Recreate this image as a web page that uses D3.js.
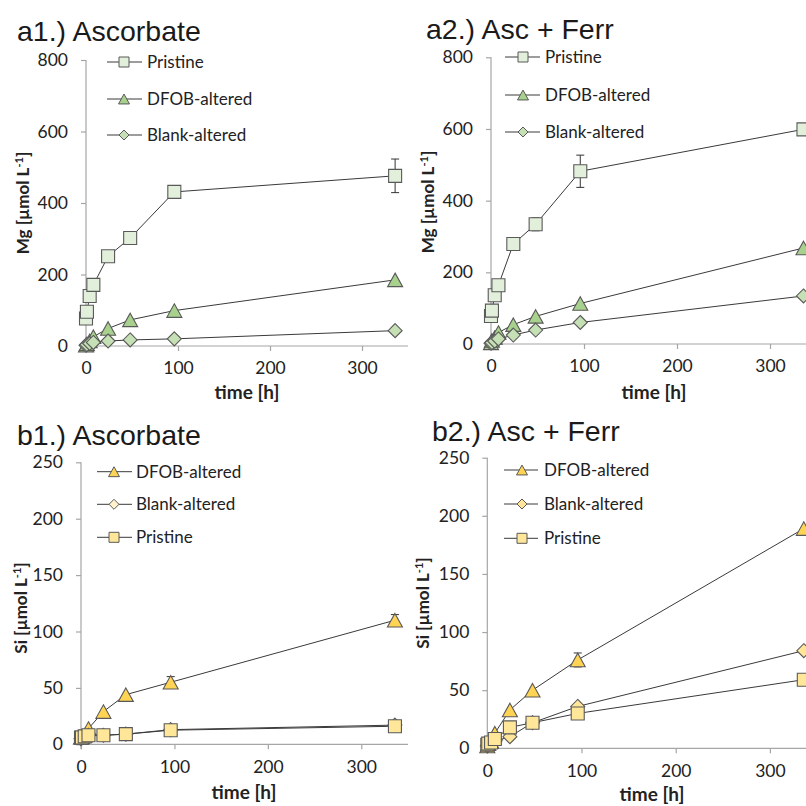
<!DOCTYPE html>
<html><head><meta charset="utf-8">
<script src="https://cdn.jsdelivr.net/npm/d3@7"></script>
<style>body{margin:0;background:#fff} svg{display:block}</style>
</head><body><svg id="c" width="806" height="806"></svg>
<script>
// ---- data ----
const times = [0, 1, 4, 8, 24, 48, 96, 336];
const mgAscPristine    = [77, 96, 140, 171, 251, 302, 431, 476];
const mgAscPristineErr = [0, 0, 0, 0, 0, 5, 0, 47];
const mgAscDFOB        = [2, 6, 14, 26, 49, 73, 99, 185];
const mgAscBlank       = [2, 4, 7, 10, 14, 17, 20, 43];
const mgFerPristine    = [78, 93, 136, 164, 279, 334, 482, 599];
const mgFerPristineErr = [0, 0, 0, 0, 6, 18, 45, 0];
const mgFerDFOB        = [3, 10, 18, 32, 54, 77, 113, 268];
const mgFerBlank       = [2, 4, 8, 14, 25, 39, 60, 134];
const siAscDFOB        = [6, 7, 8, 14, 29, 44, 55, 110];
const siAscDFOBErr     = [0, 0, 0, 0, 0, 0, 5, 5];
const siAscBlank       = [5, 6, 7, 8, 8, 9, 13, 17];
const siAscPristine    = [6, 6, 7, 8, 8, 9, 12.5, 16];
const siFerDFOB        = [2, 4, 6, 13, 33, 50, 76, 189];
const siFerDFOBErr     = [0, 0, 0, 0, 0, 0, 6, 0];
const siFerBlank       = [2, 3, 4, 6, 10, 22, 36, 84];
const siFerPristine    = [3, 4, 5, 8, 18, 22, 30, 59];
const xTicks  = [0, 100, 200, 300];
const mgTicks = [0, 200, 400, 600, 800];
const siTicks = [0, 50, 100, 150, 200, 250];
const seriesNames = ["Pristine", "DFOB-altered", "Blank-altered"];

// ---- styles ----
const C = {
  mgSq: "#e2efda", mgTri: "#a9d18e", mgDia: "#c5e0b4",
  siSq: "#ffe699", siTri: "#ffd454", siDiaLight: "#fff2cc", siDia: "#ffe699",
  stroke: "#595959", line: "#3a3a3a", axis: "#a6a6a6"
};

const panels = [
  {title: "a1.) Ascorbate", tx: 17, ty: 41, x0: 86, x1: 408, y0: 346, y1: 60, ymax: 800, yTicks: mgTicks,
   ylab: "Mg", ylx: 23, yly: 203, xlx: 247, xly: 399,
   series: [
     {name: seriesNames[0], v: mgAscPristine, e: mgAscPristineErr, shape: "square", fill: C.mgSq},
     {name: seriesNames[1], v: mgAscDFOB, shape: "triangle", fill: C.mgTri},
     {name: seriesNames[2], v: mgAscBlank, shape: "diamond", fill: C.mgDia}],
   leg: {l0: 107, l1: 142, m: 124, t: 147, ys: [62, 99, 135]}},
  {title: "a2.) Asc + Ferr", tx: 426, ty: 38.5, x0: 491, x1: 816.5, y0: 344, y1: 57.3, ymax: 800, yTicks: mgTicks,
   ylab: "Mg", ylx: 428, yly: 202, xlx: 654, xly: 399,
   series: [
     {name: seriesNames[0], v: mgFerPristine, e: mgFerPristineErr, shape: "square", fill: C.mgSq},
     {name: seriesNames[1], v: mgFerDFOB, shape: "triangle", fill: C.mgTri},
     {name: seriesNames[2], v: mgFerBlank, shape: "diamond", fill: C.mgDia}],
   leg: {l0: 505, l1: 540, m: 523, t: 545, ys: [57, 95, 132]}},
  {title: "b1.) Ascorbate", tx: 17, ty: 445, x0: 81, x1: 408, y0: 744.3, y1: 462.3, ymax: 250, yTicks: siTicks,
   ylab: "Si", ylx: 21, yly: 608, xlx: 244, xly: 799,
   series: [
     {name: seriesNames[1], v: siAscDFOB, e: siAscDFOBErr, shape: "triangle", fill: C.siTri},
     {name: seriesNames[2], v: siAscBlank, shape: "diamond", fill: C.siDiaLight},
     {name: seriesNames[0], v: siAscPristine, shape: "square", fill: C.siSq}],
   leg: {l0: 97, l1: 132, m: 114, t: 136, ys: [471.7, 504.3, 537.3]}},
  {title: "b2.) Asc + Ferr", tx: 432, ty: 441, x0: 487.3, x1: 817, y0: 748.3, y1: 457.7, ymax: 250, yTicks: siTicks,
   ylab: "Si", ylx: 423, yly: 603, xlx: 652, xly: 801,
   series: [
     {name: seriesNames[1], v: siFerDFOB, e: siFerDFOBErr, shape: "triangle", fill: C.siTri},
     {name: seriesNames[2], v: siFerBlank, shape: "diamond", fill: C.siDia},
     {name: seriesNames[0], v: siFerPristine, shape: "square", fill: C.siSq}],
   leg: {l0: 504, l1: 538, m: 522, t: 544, ys: [470, 504, 538.3]}}
];

function shapePath(shape, s) {
  const h = s / 2;
  if (shape === "square") return `M${-h},${-h}H${h}V${h}H${-h}Z`;
  if (shape === "triangle") { const hh = s * 0.45; return `M0,${-hh}L${h},${hh}L${-h},${hh}Z`; }
  return `M0,${-h}L${h},0L0,${h}L${-h},0Z`;
}

const svg = d3.select("#c");
const sans = "Lato, 'Open Sans', sans-serif";

panels.forEach(p => {
  const x = d3.scaleLinear().domain([0, 350]).range([p.x0, p.x1]);
  const y = d3.scaleLinear().domain([0, p.ymax]).range([p.y0, p.y1]);
  const g = svg.append("g");

  // title
  g.append("text").attr("x", p.tx).attr("y", p.ty).text(p.title)
    .attr("font-family", "'Liberation Sans', Arial, sans-serif").attr("font-size", 28.5).attr("fill", "#1a1a1a");

  // y axis
  const ya = g.append("g").attr("transform", `translate(${p.x0},0)`)
    .call(d3.axisLeft(y).tickValues(p.yTicks).tickSize(5).tickPadding(13).tickFormat(d3.format("d")));
  // x axis
  const xa = g.append("g").attr("transform", `translate(0,${p.y0})`)
    .call(d3.axisBottom(x).tickValues(xTicks).tickSize(5).tickPadding(11).tickFormat(d3.format("d")));
  [ya, xa].forEach(a => {
    a.select(".domain").attr("stroke", C.axis).attr("stroke-width", 1.2);
    a.selectAll(".tick line").attr("stroke", C.axis).attr("stroke-width", 1.2);
    a.selectAll("text").attr("font-family", sans).attr("font-size", 17.5).attr("fill", "#222");
  });
  xa.select(".domain").attr("d", `M${p.x0},0H${p.x1}`);
  ya.select(".domain").attr("d", `M0,${p.y0 + 5}V${p.y1}`);

  // axis titles
  g.append("text").attr("x", p.xlx).attr("y", p.xly).attr("text-anchor", "middle")
    .attr("font-family", sans).attr("font-weight", "bold").attr("font-size", 19).attr("fill", "#222").text("time [h]");
  const yl = g.append("text").attr("transform", `translate(${p.ylx},${p.yly}) rotate(-90)`)
    .attr("text-anchor", "middle").attr("dy", "0.35em")
    .attr("font-family", sans).attr("font-weight", "bold").attr("font-size", 17).attr("fill", "#222");
  yl.append("tspan").text(p.ylab + " [µmol L");
  yl.append("tspan").attr("baseline-shift", "super").attr("font-size", 11).text("-1");
  yl.append("tspan").text("]");

  // series
  const line = d3.line().x((d, i) => x(times[i])).y(d => y(d));
  p.series.forEach(s => {
    const sg = g.append("g");
    sg.append("path").datum(s.v).attr("d", line).attr("fill", "none").attr("stroke", C.line).attr("stroke-width", 1);
    if (s.e) {
      s.v.forEach((v, i) => {
        const e = s.e[i]; if (!e) return;
        const cx = x(times[i]);
        sg.append("path").attr("d", `M${cx},${y(v + e)}V${y(v - e)}M${cx - 4},${y(v + e)}H${cx + 4}M${cx - 4},${y(v - e)}H${cx + 4}`)
          .attr("stroke", "#333").attr("stroke-width", 1).attr("fill", "none");
      });
    }
    const size = s.shape === "square" ? 13 : (s.shape === "triangle" ? 15 : 14);
    sg.selectAll(".m").data(s.v).join("path").attr("class", "m")
      .attr("transform", (d, i) => `translate(${x(times[i])},${y(d)})`)
      .attr("d", shapePath(s.shape, size))
      .attr("fill", s.fill).attr("stroke", C.stroke).attr("stroke-width", 1.1);
  });

  // legend
  p.series.forEach((s, i) => {
    const ly = p.leg.ys[i];
    g.append("line").attr("x1", p.leg.l0).attr("x2", p.leg.l1).attr("y1", ly).attr("y2", ly)
      .attr("stroke", C.line).attr("stroke-width", 1);
    g.append("path").attr("transform", `translate(${p.leg.m},${ly})`)
      .attr("d", shapePath(s.shape, s.shape === "triangle" ? 11 : 10))
      .attr("fill", s.fill).attr("stroke", C.stroke).attr("stroke-width", 1);
    g.append("text").attr("x", p.leg.t).attr("y", ly).attr("dy", "0.36em")
      .attr("font-family", sans).attr("font-size", 17).attr("fill", "#222").text(s.name);
  });
});
</script></body></html>
